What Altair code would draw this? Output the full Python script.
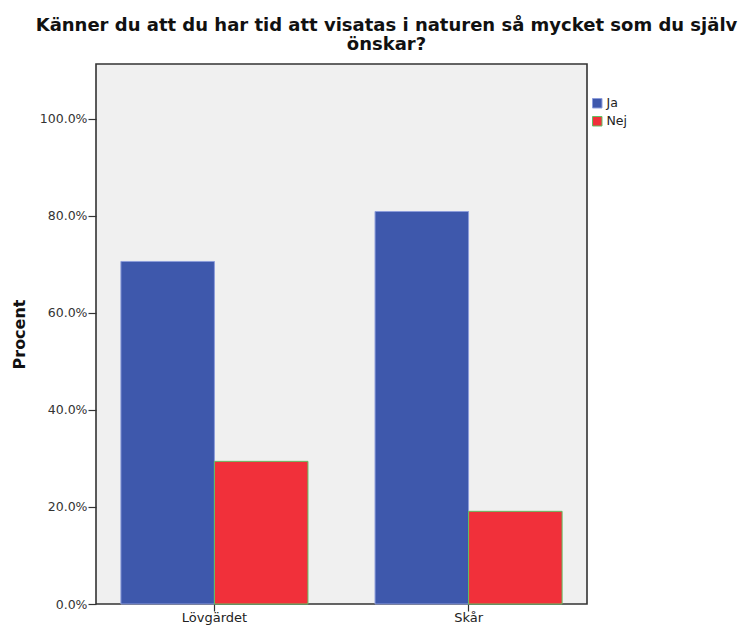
import altair as alt
import pandas as pd

orter = ["Lövgärdet", "Lövgärdet", "Skår", "Skår"]
svar = ["Ja", "Nej", "Ja", "Nej"]
procent = [70.6, 29.4, 80.9, 19.1]

svar_order = ["Ja", "Nej"]
ort_order = ["Lövgärdet", "Skår"]
fill_colors = ["#3e58ac", "#f1303a"]
stroke_colors = ["#8d9ddb", "#62c062"]
y_ticks = [0, 20, 40, 60, 80, 100]
title_lines = [
    "Känner du att du har tid att visatas i naturen så mycket som du själv",
    "önskar?\u00a0\u00a0\u00a0",
]

df = pd.DataFrame({"Ort": orter, "Svar": svar, "Procent": procent})

FONT = "DejaVu Sans"

legend = alt.Legend(
    title=None, orient="none", legendX=495, legendY=33,
    symbolType="square", symbolSize=90, symbolStrokeWidth=1,
    labelFont=FONT, labelFontSize=12.5, labelColor="#222",
    rowPadding=4, labelOffset=3,
)

chart = (
    alt.Chart(df)
    .mark_bar(strokeWidth=1)
    .encode(
        x=alt.X(
            "Ort:N", sort=ort_order,
            scale=alt.Scale(paddingInner=0.264, paddingOuter=0.098),
            axis=alt.Axis(
                title=None, labelAngle=0, domain=False, tickSize=7,
                tickColor="#333", tickWidth=1.2, labelFont=FONT, labelFontSize=13,
                labelColor="#222", labelPadding=0,
            ),
        ),
        xOffset=alt.XOffset(
            "Svar:N", sort=svar_order,
            scale=alt.Scale(paddingInner=0, paddingOuter=0),
        ),
        y=alt.Y(
            "Procent:Q",
            scale=alt.Scale(domain=[0, 111.3], nice=False, zero=True),
            axis=alt.Axis(
                title="Procent", values=y_ticks, grid=False, domain=False,
                labelExpr="format(datum.value, '.1f') + '%'",
                tickSize=8, tickColor="#333", tickWidth=1.2,
                labelFont=FONT, labelFontSize=12.5, labelColor="#333", labelPadding=1,
                titleFont=FONT, titleFontSize=16, titleFontWeight="bold",
                titleColor="#111", titlePadding=12,
            ),
        ),
        fill=alt.Fill(
            "Svar:N", sort=svar_order,
            scale=alt.Scale(domain=svar_order, range=fill_colors), legend=legend,
        ),
        stroke=alt.Stroke(
            "Svar:N", sort=svar_order,
            scale=alt.Scale(domain=svar_order, range=stroke_colors), legend=legend,
        ),
    )
    .properties(
        width=491, height=540,
        autosize="none",
        padding={"left": 88, "top": 56, "right": 153, "bottom": 24},
        title=alt.TitleParams(
            text=title_lines,
            anchor="middle", frame="group", dx=45, offset=10,
            font=FONT, fontSize=18, fontWeight="bold", color="#111", lineHeight=19,
        ),
    )
    .configure(
        background="white",
        view=alt.ViewConfig(fill="#f0f0f0", stroke="#333", strokeWidth=1.6),
    )
)

chart.save("out.html", embed_options={"renderer": "svg", "actions": False})
